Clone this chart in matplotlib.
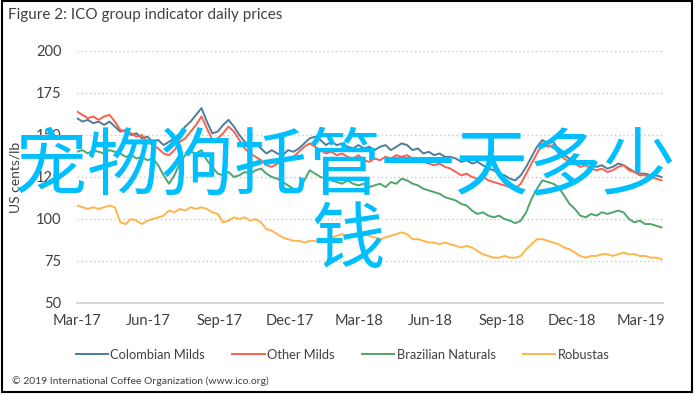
import matplotlib
matplotlib.use("Agg")
import matplotlib.pyplot as plt
import matplotlib.dates as mdates
import numpy as np
import pandas as pd
from matplotlib.patches import Rectangle

# weekly sampling dates
dates = pd.date_range("2017-03-01", periods=109, freq="7D")

colombian_milds = [160, 158, 159, 157, 158, 156, 158, 155, 152, 153, 150, 151, 148, 149, 146, 147,
                   144, 146, 148, 151, 155, 158, 162, 166, 158, 151, 152, 156, 159, 155, 150, 146,
                   143, 145, 142, 139, 141, 139, 138, 141, 140, 142, 145, 148, 149, 147, 144, 146,
                   144, 145, 143, 142, 144, 142, 143, 141, 143, 144, 141, 143, 145, 144, 141, 142,
                   139, 140, 138, 139, 137, 137, 136, 134, 135, 133, 134, 132, 130, 129, 127, 126,
                   124, 123, 126, 131, 137, 143, 147, 145, 146, 141, 138, 136, 135, 133, 134, 133,
                   131, 132, 130, 131, 133, 132, 130, 128, 127, 127, 126, 126, 125]
other_milds = [164, 162, 160, 161, 159, 161, 162, 158, 153, 152, 151, 149, 150, 146, 144, 142,
               139, 138, 141, 146, 148, 152, 156, 161, 154, 147, 148, 151, 155, 152, 147, 142,
               139, 137, 135, 132, 131, 133, 134, 136, 137, 140, 143, 145, 143, 141, 139, 140,
               138, 139, 137, 136, 138, 135, 134, 136, 135, 137, 136, 138, 137, 138, 136, 135,
               134, 133, 132, 133, 131, 130, 128, 126, 127, 125, 124, 125, 123, 122, 121, 120,
               119, 118, 121, 127, 133, 139, 145, 143, 144, 139, 136, 134, 133, 131, 132, 130,
               129, 130, 128, 129, 131, 132, 129, 128, 126, 126, 125, 124, 123]
brazilian_naturals = [140, 141, 139, 141, 140, 139, 141, 140, 139, 137, 138, 136, 137, 135, 136, 132,
                      126, 121, 126, 133, 138, 140, 139, 141, 135, 131, 127, 126, 128, 125, 126, 128,
                      127, 129, 130, 127, 125, 124, 122, 120, 118, 117, 123, 129, 127, 125, 124, 123,
                      122, 121, 123, 121, 120, 121, 119, 120, 121, 119, 122, 121, 124, 123, 121, 120,
                      118, 117, 116, 115, 113, 112, 111, 109, 108, 105, 103, 104, 102, 101, 102, 100,
                      99, 97.5, 99, 104, 112, 118, 123, 122, 121, 119, 114, 109, 106, 102, 101, 103,
                      102, 104, 103, 104, 105, 104, 100, 98, 99, 97, 97, 96, 95]
robustas = [108, 107, 106, 107, 106, 107, 108, 107, 98, 97, 100, 99, 97, 99, 100, 101,
            102, 105, 104, 106, 105, 107, 106, 107, 106, 104, 103, 98, 99, 101, 100, 101,
            99, 100, 98, 94, 93, 91, 89, 88, 87, 87, 86, 87, 87, 88, 88, 89,
            90, 91, 90, 91, 90, 91, 90, 89, 88, 89, 90, 91, 92, 91, 88, 88,
            87, 86, 86, 85, 86, 85, 84, 83, 84, 83, 81, 79, 78, 77, 77, 78,
            77, 77, 78, 82, 85, 88, 88, 87, 86, 85, 83, 82, 80, 78, 77, 78,
            78, 79, 79, 78, 79, 80, 79, 79, 78, 78, 77, 77, 76]

series_names = ["Colombian Milds", "Other Milds", "Brazilian Naturals", "Robustas"]
series_colors = ["#4E7D9A", "#F9604E", "#4FA56B", "#FFB54D"]
yticks = [50, 75, 100, 125, 150, 175, 200]
xtick_dates = pd.date_range("2017-03-01", "2019-03-01", freq="3MS")

W, H = 695, 394
fig = plt.figure(figsize=(W / 100, H / 100), dpi=100)
plt.rcParams['font.family'] = ['Lato', 'DejaVu Sans']

ax = fig.add_axes([77 / W, 1 - 303 / H, (663 - 77) / W, (303 - 51) / H])
for vals, name, col in zip([colombian_milds, other_milds, brazilian_naturals, robustas],
                           series_names, series_colors):
    ax.plot(dates, vals, color=col, lw=1.4, label=name)

ax.set_ylim(50, 200)
ax.set_xlim(pd.Timestamp("2017-03-01"), pd.Timestamp("2019-03-29"))
ax.set_yticks(yticks)
ax.set_xticks(xtick_dates)
ax.xaxis.set_major_formatter(mdates.DateFormatter("%b-%y"))
for y in yticks[1:]:
    ax.axhline(y, color="#C8C8C8", lw=1.0, ls=(0, (1, 2)), zorder=0)
for s in ["top", "right", "left"]:
    ax.spines[s].set_visible(False)
ax.spines["bottom"].set_color("#D9D9D9")
ax.spines["bottom"].set_linewidth(1.5)
ax.tick_params(axis="both", length=0, labelsize=10.5, colors="#404040")
ax.tick_params(axis="y", pad=11)
ax.tick_params(axis="x", pad=8)
ax.set_ylabel("US cents/lb", fontsize=10, color="#404040", labelpad=8)
ax.yaxis.set_label_coords(-0.095, 0.5)

fig.text(8 / W, 1 - 15 / H, "Figure 2: ICO group indicator daily prices", fontsize=11,
         color="#404040", va="center", ha="left")

leg = fig.legend(loc="center", bbox_to_anchor=(0.493, 1 - 355 / H), ncol=4, frameon=False,
                 fontsize=9.3, handlelength=2.5, columnspacing=2.1, handletextpad=0.2)
for t in leg.get_texts():
    t.set_color("#404040")

fig.text(12 / W, 1 - 381 / H, "© 2019 International Coffee Organization (www.ico.org)",
         fontsize=7.5, color="#404040", va="center", ha="left")

# outer frame
fig.patches.append(Rectangle((1.5 / W, 1 - 392 / H), (692 - 1.5) / W, (392 - 1) / H,
                             transform=fig.transFigure, fill=False, ec="black", lw=1.5))

# overlay text
cjk = ['Noto Sans CJK SC', 'DejaVu Sans']
fig.text(345 / W, 1 - 168 / H, "宠物狗托管一天多少", fontsize=53, color="#00BFFF",
         family=cjk, weight="medium", ha="center", va="center")
fig.text(348 / W, 1 - 242 / H, "钱", fontsize=53, color="#00BFFF",
         family=cjk, weight="medium", ha="center", va="center")

fig.savefig("out.png", dpi=100)
